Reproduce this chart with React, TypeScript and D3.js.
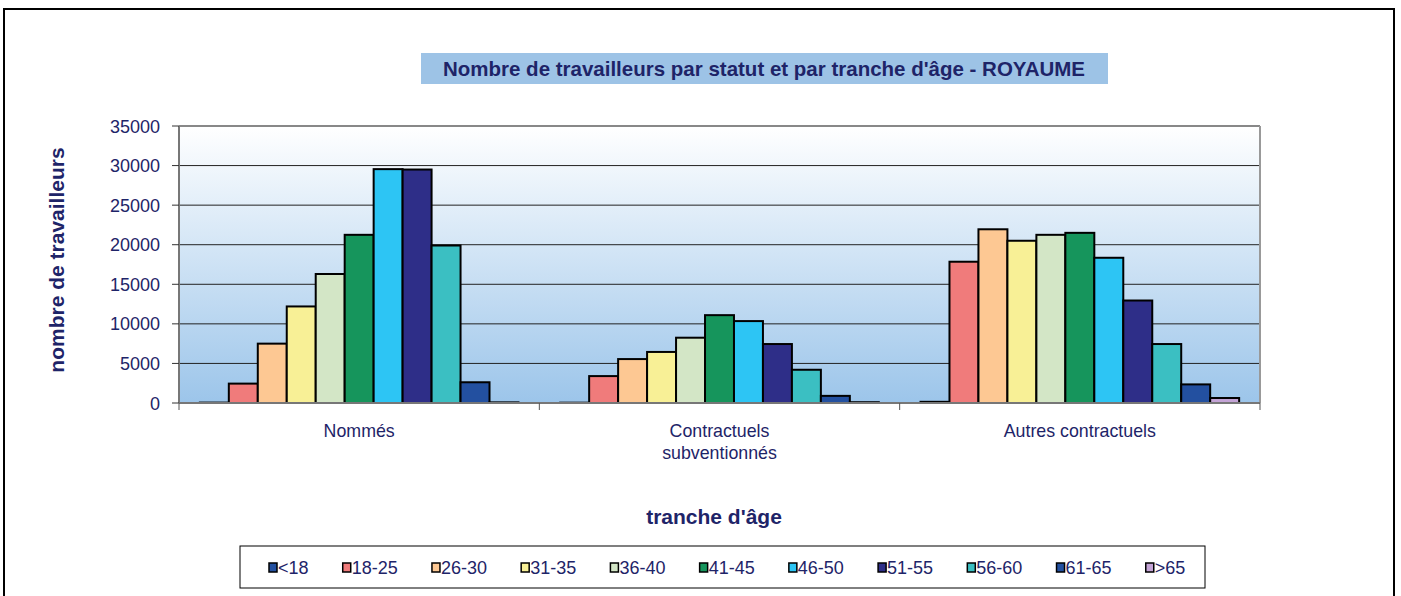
import React from 'react';
import * as d3 from 'd3';

// data
const categories = ['Nommés', 'Contractuels subventionnés', 'Autres contractuels'];
const categoryLines = [['Nommés'], ['Contractuels', 'subventionnés'], ['Autres contractuels']];
const ageGroups = ['<18', '18-25', '26-30', '31-35', '36-40', '41-45', '46-50', '51-55', '56-60', '61-65', '>65'];
const nommes = [50, 2450, 7500, 12200, 16300, 21250, 29550, 29500, 19900, 2620, 80];
const subventionnes = [40, 3400, 5550, 6450, 8250, 11100, 10350, 7450, 4200, 900, 100];
const autres = [150, 17850, 21950, 20500, 21250, 21500, 18350, 12950, 7450, 2350, 630];
const seriesValues = [nommes, subventionnes, autres];
const yTicks = [0, 5000, 10000, 15000, 20000, 25000, 30000, 35000];
const colors = ['#2350a0', '#f07b7b', '#fdc893', '#f8f096', '#d3e6c6', '#16955c', '#2dc5f4', '#2e2e88', '#3bbfc2', '#2350a0', '#c4a4d6'];

const W = 1401;
const H = 596;
const navy = '#1e2468';
const font = '"Liberation Sans", Arial, sans-serif';

// rough Arial advance widths (em) for the legend flow layout
const charW = (ch: string) => (ch === '-' ? 0.333 : ch === '<' || ch === '>' ? 0.584 : 0.556);
const textWidth = (s: string, size: number) => s.split('').reduce((acc, ch) => acc + charW(ch) * size, 0);

export default function App() {
  const plot = { left: 179, right: 1260, top: 126, bottom: 403 };

  const x0 = d3.scaleBand<string>().domain(categories).range([plot.left, plot.right]).padding(0);
  const x1 = d3.scaleBand<string>().domain(ageGroups).range([0, x0.bandwidth()]).paddingInner(0).paddingOuter(0.72);
  const y = d3.scaleLinear().domain([0, 35000]).range([plot.bottom, plot.top]);

  const legend = { x: 240, y: 546, w: 965, h: 42 };
  const legendFont = 18;
  const legendPos: number[] = [];
  let cursor = 273;
  ageGroups.forEach(a => {
    legendPos.push(cursor);
    cursor += 10 + textWidth(a, legendFont) + 33.2;
  });

  return (
    <svg width={W} height={H} style={{ position: 'absolute', left: 0, top: 0, background: '#fff' }} fontFamily={font}>
      <defs>
        <linearGradient id="plotBg" x1="0" y1="0" x2="0" y2="1">
          <stop offset="0%" stopColor="#ffffff" />
          <stop offset="100%" stopColor="#9cc5ea" />
        </linearGradient>
      </defs>

      {/* outer frame */}
      <rect x={4} y={9} width={1390} height={H} fill="#fff" stroke="#000" strokeWidth={2} />

      {/* title */}
      <rect x={421} y={53} width={687} height={31} fill="#9dc3e6" />
      <text x={764} y={76} textAnchor="middle" fontSize={20.5} fontWeight="bold" fill={navy}>
        Nombre de travailleurs par statut et par tranche d'âge - ROYAUME
      </text>

      {/* plot area */}
      <rect x={plot.left} y={plot.top} width={plot.right - plot.left} height={plot.bottom - plot.top} fill="url(#plotBg)" />
      {yTicks.map(t => (
        <line key={t} x1={plot.left} x2={plot.right} y1={y(t)} y2={y(t)}
          stroke={t === 35000 ? '#888' : '#222'} strokeWidth={t === 35000 ? 2 : 1} />
      ))}
      <line x1={plot.right} x2={plot.right} y1={plot.top} y2={plot.bottom} stroke="#999" strokeWidth={2} />

      {/* bars */}
      {categories.map((c, ci) => (
        <g key={c} transform={`translate(${x0(c)},0)`}>
          {ageGroups.map((a, ai) => {
            const v = seriesValues[ci][ai];
            return (
              <rect key={a} x={x1(a)} y={y(v)} width={x1.bandwidth()} height={plot.bottom - y(v)}
                fill={colors[ai]} stroke="#000" strokeWidth={2} />
            );
          })}
        </g>
      ))}

      {/* axes */}
      <line x1={plot.left} x2={plot.left} y1={plot.top} y2={plot.bottom} stroke="#777" strokeWidth={2} />
      <line x1={plot.left} x2={plot.right} y1={plot.bottom} y2={plot.bottom} stroke="#777" strokeWidth={2} />
      {yTicks.map(t => (
        <g key={t}>
          <line x1={plot.left - 7} x2={plot.left} y1={y(t)} y2={y(t)} stroke="#333" strokeWidth={1} />
          <text x={160} y={y(t) + 6.5} textAnchor="end" fontSize={18} fill={navy}>{t}</text>
        </g>
      ))}
      {[...categories.map(c => x0(c) as number), plot.right].map((xv, i) => (
        <line key={i} x1={xv} x2={xv} y1={plot.bottom} y2={plot.bottom + 7} stroke="#555" strokeWidth={1} />
      ))}
      {categories.map((c, ci) => (
        <text key={c} x={(x0(c) as number) + x0.bandwidth() / 2} y={437} textAnchor="middle" fontSize={17.8} fill={navy}>
          {categoryLines[ci].map((l, li) => (
            <tspan key={li} x={(x0(c) as number) + x0.bandwidth() / 2} dy={li === 0 ? 0 : 22}>{l}</tspan>
          ))}
        </text>
      ))}

      {/* axis titles */}
      <text transform="translate(64,260) rotate(-90)" textAnchor="middle" fontSize={21} fontWeight="bold" fill={navy}>
        nombre de travailleurs
      </text>
      <text x={714} y={524} textAnchor="middle" fontSize={21} fontWeight="bold" fill={navy}>tranche d'âge</text>

      {/* legend */}
      <rect x={legend.x} y={legend.y} width={legend.w} height={legend.h} fill="#fff" stroke="#000" strokeWidth={1} />
      {ageGroups.map((a, i) => {
        const lx = legendPos[i];
        return (
          <g key={a}>
            <rect x={lx - 4} y={563} width={8} height={9} fill={colors[i]} stroke="#000" strokeWidth={1.5} />
            <text x={lx + 5} y={574} fontSize={legendFont} fill={navy}>{a}</text>
          </g>
        );
      })}
    </svg>
  );
}
